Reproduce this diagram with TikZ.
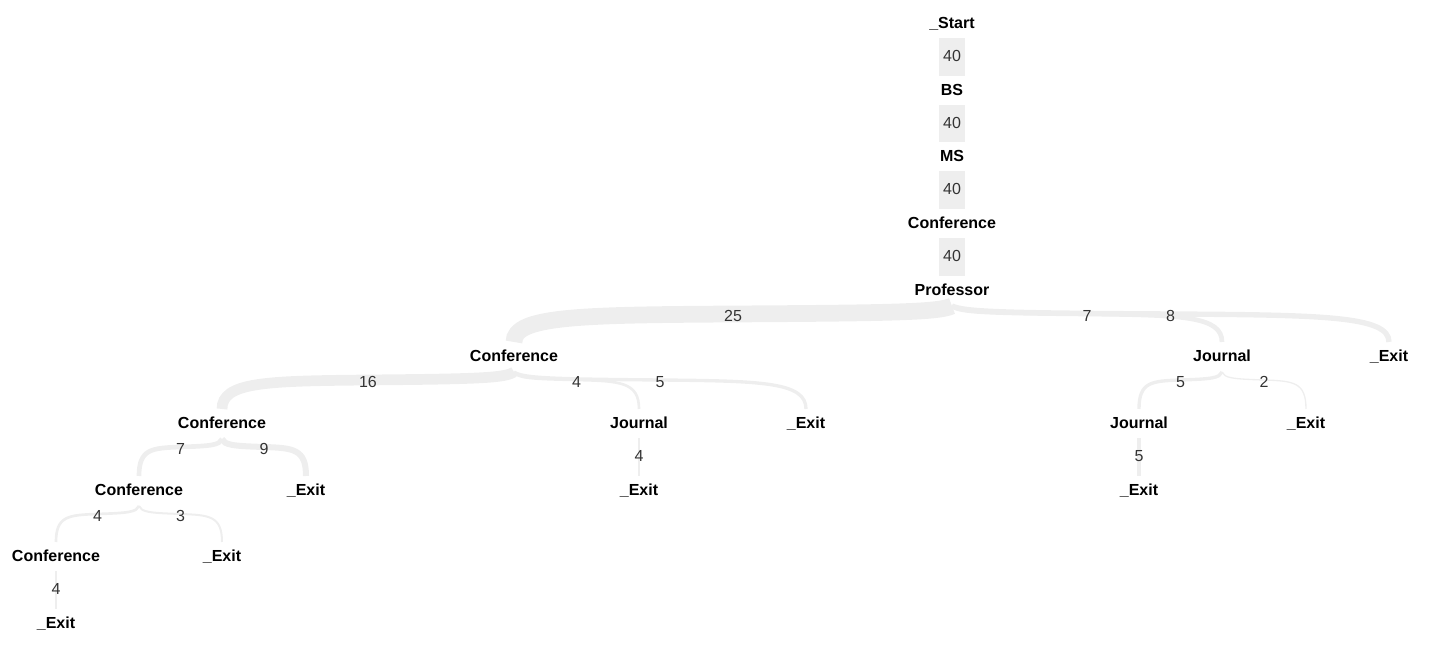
\documentclass[tikz,border=0pt]{standalone}
\usepackage{fontspec}
\setmainfont{Liberation Sans}
\usetikzlibrary{calc}
\definecolor{bandgray}{HTML}{EEEEEE}
\definecolor{numgray}{HTML}{333333}
\pgfdeclarelayer{bands}
\pgfsetlayers{bands,main}

\begin{document}
\begin{tikzpicture}[x=0.5pt,y=-0.5pt,
  word/.style={font=\fontsize{8}{9}\selectfont\bfseries,text height=5.8pt,text depth=0pt,inner sep=0pt},
  count/.style={font=\fontsize{8}{9}\selectfont,text=numgray,inner sep=1pt},
  band/.style={draw=bandgray,line cap=butt}]
  \useasboundingbox (0,0) rectangle (1448,656);
  % words of the tree
  \foreach \name/\x/\y/\txt in {start/952/23/{\_Start},bs/952/90/BS,ms/952/156/MS,conf/952/223/Conference,prof/952/290/Professor,
      c1/514/356/Conference,j1/1222/356/Journal,e1/1389/356/{\_Exit},
      c2/222/423/Conference,j2/639/423/Journal,e2/806/423/{\_Exit},j3/1139/423/Journal,e3/1306/423/{\_Exit},
      c3/139/490/Conference,e4/306/490/{\_Exit},e5/639/490/{\_Exit},e6/1139/490/{\_Exit},
      c4/56/556/Conference,e7/222/556/{\_Exit},e8/56/623/{\_Exit}}
    \node[word] (\name) at (\x,\y) {\txt};
  % straight bands
  \foreach \src/\dst/\val in {start/bs/40,bs/ms/40,ms/conf/40,conf/prof/40,j2/e5/4,j3/e6/5,c4/e8/4}{
    \begin{pgfonlayer}{bands}
      \draw[band,line width=\val*0.335pt] ($(\src)+(0,15)$) -- ($(\dst)+(0,-14)$);
    \end{pgfonlayer}
    \node[count] at ($(\src)!0.5!(\dst)$) {\val};
  }
  % curved bands
  \foreach \src/\dst/\val in {prof/c1/25,prof/j1/7,prof/e1/8,c1/c2/16,c1/j2/4,c1/e2/5,
      j1/j3/5,j1/e3/2,c2/c3/7,c2/e4/9,c3/c4/4,c3/e7/3}{
    \begin{pgfonlayer}{bands}
      \draw[band,line width=\val*0.335pt] let \p1=(\src), \p2=(\dst) in
        (\x1,\y1-8pt) .. controls ({\x1+0.03*(\x2-\x1)},\y1-11pt) and ({\x1+0.12*(\x2-\x1)},\y1-11.5pt)
        .. ({\x1+0.5*(\x2-\x1)},\y1-12pt)
        .. controls ({\x1+0.85*(\x2-\x1)},\y1-12.5pt) and (\x2,\y1-13pt) .. (\x2,\y2+7pt);
    \end{pgfonlayer}
    \path let \p1=(\src), \p2=(\dst) in node[count] at ({0.5*(\x1+\x2)},\y1-13pt) {\val};
  }
\end{tikzpicture}
\end{document}
